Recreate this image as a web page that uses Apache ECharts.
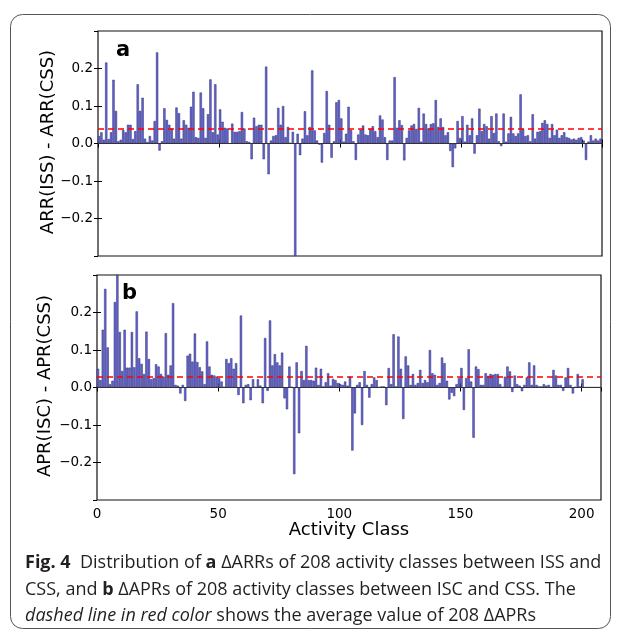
<!DOCTYPE html>
<html>
<head>
<meta charset="utf-8">
<script src="https://cdn.jsdelivr.net/npm/echarts@6/dist/echarts.min.js"></script>
<style>
  html, body { margin: 0; padding: 0; background: #fff; }
  #chart { width: 622px; height: 632px; }
</style>
</head>
<body>
<div id="chart"></div>
<script>
// ΔARR per activity class (panel a)
var arrDiff = [
  0.02, 0.03, 0.01, 0.216, 0.012, 0.03, 0.17, 0.087, 0.006, 0.01,
  0.036, 0.03, 0.05, 0.05, 0.012, 0.033, 0.158, 0.087, 0.122, 0.013,
  0.004, 0.02, 0.008, 0.06, 0.243, -0.019, 0.006, 0.094, 0.063, 0.05,
  0.04, 0.013, 0.096, 0.081, 0.013, 0.062, 0.05, 0.042, 0.098, 0.138,
  0.017, 0.015, 0.136, 0.094, 0.015, 0.078, 0.171, 0.03, 0.158, 0.024,
  0.091, 0.058, 0.042, 0.04, 0.0, 0.053, 0.031, 0.031, 0.033, 0.084,
  0.04, 0.006, 0.004, -0.042, 0.069, 0.046, 0.05, 0.05, -0.042, 0.205,
  -0.082, 0.008, 0.02, 0.022, 0.095, 0.05, 0.1, 0.017, 0.044, 0.002,
  0.031, -0.3, 0.026, -0.031, 0.013, 0.086, 0.022, 0.044, 0.195, 0.035,
  0.008, -0.003, -0.051, 0.028, 0.14, 0.05, -0.038, 0.006, 0.11, 0.116,
  0.067, 0.005, 0.026, 0.098, 0.036, 0.006, -0.044, 0.024, 0.037, 0.048,
  0.024, 0.022, 0.039, 0.046, 0.033, 0.017, 0.075, 0.064, 0.017, -0.044,
  0.008, 0.008, 0.177, 0.042, 0.062, 0.049, -0.045, 0.015, 0.035, 0.048,
  0.052, 0.039, 0.095, 0.005, 0.08, 0.052, 0.04, 0.052, 0.054, 0.116,
  0.044, 0.067, 0.044, 0.022, 0.03, -0.02, -0.063, -0.013, 0.06, 0.015,
  0.073, 0.005, 0.05, 0.022, 0.067, -0.027, 0.022, 0.093, 0.033, 0.052,
  0.046, 0.013, 0.073, 0.028, 0.08, 0.006, -0.007, 0.08, 0.005, 0.027,
  0.071, 0.027, 0.02, 0.027, 0.131, 0.039, 0.02, 0.022, 0.006, 0.078,
  0.013, 0.031, 0.033, 0.055, 0.062, 0.052, 0.015, 0.052, 0.022, 0.037,
  0.015, 0.022, 0.03, 0.017, 0.015, 0.011, 0.013, 0.01, 0.015, 0.017,
  0.008, -0.044, 0.005, 0.022, 0.008, 0.013, 0.008, 0.013
]

// ΔAPR per activity class (panel b)
var aprDiff = [
  0.05, 0.02, 0.154, 0.263, 0.107, 0.009, 0.018, 0.228, 0.31, 0.148,
  0.044, 0.154, 0.053, 0.053, 0.148, 0.054, 0.203, 0.078, 0.063, 0.036,
  0.149, 0.076, 0.022, 0.025, 0.062, 0.056, 0.036, 0.029, 0.145, 0.034,
  0.059, 0.225, 0.007, 0.005, -0.016, 0.007, -0.036, 0.085, 0.09, 0.069,
  0.144, 0.068, 0.054, 0.043, 0.009, 0.123, 0.056, 0.034, 0.032, 0.029,
  0.025, 0.016, 0.002, 0.076, 0.065, 0.078, 0.05, 0.065, -0.02, 0.192,
  -0.042, 0.007, 0.009, -0.034, 0.022, 0.002, 0.022, 0.005, -0.042, 0.132,
  -0.009, 0.179, 0.059, 0.089, 0.067, 0.059, 0.093, -0.029, -0.058, 0.056,
  0.002, -0.231, 0.067, -0.122, 0.044, 0.02, 0.111, 0.02, 0.02, 0.018,
  0.053, 0.007, 0.05, 0.003, 0.014, 0.038, 0.005, 0.023, 0.02, 0.012,
  0.009, 0.007, 0.016, 0.005, 0.029, -0.168, -0.069, 0.007, 0.014, -0.1,
  0.044, 0.007, -0.027, 0.009, 0.027, 0.02, 0.001, 0.003, 0.003, -0.047,
  0.052, 0.009, 0.142, 0.003, 0.136, 0.05, -0.084, 0.083, 0.059, 0.007,
  0.036, 0.007, 0.012, 0.047, 0.012, 0.02, 0.014, 0.1, 0.038, 0.034,
  0.007, 0.012, 0.08, 0.065, 0.018, -0.032, -0.014, -0.023, 0.009, 0.025,
  0.052, -0.06, 0.025, 0.102, 0.016, -0.134, 0.056, 0.049, 0.007, 0.007,
  0.038, 0.031, 0.036, 0.034, 0.036, 0.036, 0.009, 0.002, 0.029, 0.056,
  0.043, -0.012, 0.032, 0.009, 0.005, -0.01, 0.007, 0.027, 0.067, 0.007,
  0.059, 0.007, 0.003, 0.003, 0.009, 0.005, 0.007, 0.001, 0.047, 0.032,
  0.007, 0.007, -0.009, 0.027, 0.052, 0.007, -0.016, 0.002, 0.036, 0.003,
  0.022, 0.001, 0.001, 0.001, 0.001, 0.001, 0.001, 0.001
]

// red dashed averages
var arrMean = 0.035
var aprMean = 0.030

var classIdx = []
for (var i = 0; i < arrDiff.length; i++) classIdx.push(i)

var xTickStep = 50
var yTickStep = 0.1

function toPairs(vals) {
  // matplotlib edge-aligned bars, width 0.8 -> centre at i + 0.4
  return vals.map(function (v, i) { return [classIdx[i] + 0.4, v] })
}

function fmtY(v) {
  if (Math.abs(v) < 1e-9) return '0.0'
  return (v < 0 ? '\u2212' : '') + Math.abs(v).toFixed(1)
}

var tickFont = 'DejaVu Sans'

function xAxisFor(grid, pos, labels) {
  return {
    type: 'value', gridIndex: grid, position: pos,
    min: 0, max: 208, interval: xTickStep,
    axisLine: { show: false },
    splitLine: { show: false },
    axisTick: { inside: true, length: 4, lineStyle: { color: '#000', width: 1 } },
    axisLabel: { show: labels, showMaxLabel: false, margin: 7, fontSize: 13.5, color: '#000', fontFamily: tickFont }
  }
}

function yAxisFor(grid, pos, labels) {
  return {
    type: 'value', gridIndex: grid, position: pos,
    min: -0.3, max: 0.3, interval: yTickStep,
    axisLine: { show: false },
    splitLine: { show: false },
    axisTick: { inside: true, length: 4, lineStyle: { color: '#000', width: 1 } },
    axisLabel: { show: labels, showMinLabel: false, showMaxLabel: false, margin: 5,
      fontSize: 13.5, color: '#000', fontFamily: tickFont, formatter: fmtY }
  }
}

function barSeries(idx, vals, mean) {
  return {
    type: 'bar', xAxisIndex: idx * 2, yAxisIndex: idx * 2,
    data: toPairs(vals),
    barWidth: 2.3,
    itemStyle: { color: '#6464d4', borderColor: '#2c2c6e', borderWidth: 0.5 },
    markLine: {
      silent: true, symbol: 'none', label: { show: false },
      data: [
        { yAxis: 0, lineStyle: { color: '#333', width: 1, type: 'solid' } },
        { yAxis: mean, lineStyle: { color: '#ff0000', width: 1.6, type: [6, 4] } }
      ]
    }
  }
}

var chart = echarts.init(document.getElementById('chart'), null, { renderer: 'canvas' })

var captionColor = '#231f20'
var capFont = 'Open Sans'
var capSize = 18
var capRich = {
  n: { fontFamily: capFont, fontSize: capSize, color: captionColor },
  b: { fontFamily: capFont, fontSize: capSize, fontWeight: 'bold', color: captionColor },
  i: { fontFamily: capFont, fontSize: capSize, fontStyle: 'italic', color: captionColor }
}

function capLine(y, txt) {
  return {
    type: 'text', x: 25, y: y,
    style: { text: txt, rich: capRich, fontFamily: capFont, fontSize: capSize, fill: captionColor, verticalAlign: 'middle' }
  }
}

var option = {
  animation: false,
  grid: [
    { left: 98, right: 20, top: 31, height: 225, show: true, borderColor: '#111', borderWidth: 1.2 },
    { left: 97, right: 21, top: 275, height: 225, show: true, borderColor: '#111', borderWidth: 1.2 }
  ],
  xAxis: [
    xAxisFor(0, 'bottom', false), xAxisFor(0, 'top', false),
    xAxisFor(1, 'bottom', true), xAxisFor(1, 'top', false)
  ],
  yAxis: [
    yAxisFor(0, 'left', true), yAxisFor(0, 'right', false),
    yAxisFor(1, 'left', true), yAxisFor(1, 'right', false)
  ],
  series: [
    barSeries(0, arrDiff, arrMean),
    barSeries(1, aprDiff, aprMean)
  ],
  graphic: [
    { type: 'rect', shape: { x: 10.5, y: 14.5, width: 600, height: 614, r: 12 },
      style: { fill: 'none', stroke: '#555', lineWidth: 1 }, z: -1 },
    { type: 'text', x: 116, y: 51,
      style: { text: 'a', font: 'bold 21px "DejaVu Sans"', fill: '#000', verticalAlign: 'middle' } },
    { type: 'text', x: 122, y: 294,
      style: { text: 'b', font: 'bold 21px "DejaVu Sans"', fill: '#000', verticalAlign: 'middle' } },
    { type: 'text', x: 48, y: 142, rotation: Math.PI / 2,
      style: { text: 'ARR(ISS) - ARR(CSS)', font: '18px "DejaVu Sans"', fill: '#000', align: 'center', verticalAlign: 'middle' } },
    { type: 'text', x: 45, y: 386, rotation: Math.PI / 2,
      style: { text: 'APR(ISC) - APR(CSS)', font: '18px "DejaVu Sans"', fill: '#000', align: 'center', verticalAlign: 'middle' } },
    { type: 'text', x: 349, y: 530,
      style: { text: 'Activity Class', font: '18px "DejaVu Sans"', fill: '#000', align: 'center', verticalAlign: 'middle' } },
    capLine(563, '{b|Fig. 4}  {n|Distribution of }{b|a}{n| ΔARRs of 208 activity classes between ISS and}'),
    capLine(590, '{n|CSS, and }{b|b}{n| ΔAPRs of 208 activity classes between ISC and CSS. The}'),
    capLine(616, '{i|dashed line in red color}{n| shows the average value of 208 ΔAPRs}')
  ]
}

chart.setOption(option)
</script>
</body>
</html>
